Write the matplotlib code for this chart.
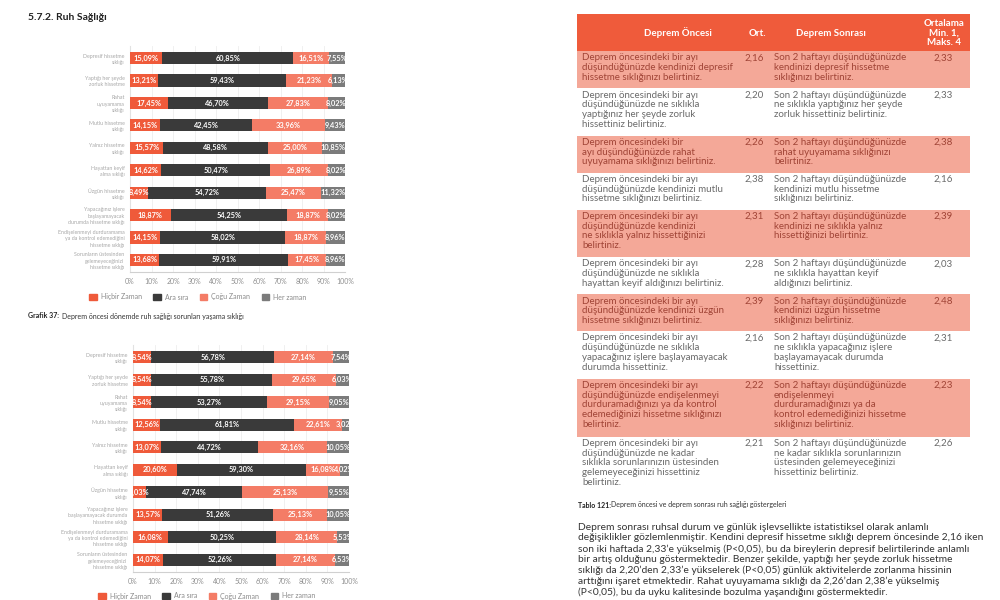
import matplotlib
matplotlib.use('Agg')
import matplotlib.pyplot as plt
from matplotlib.patches import Rectangle, Patch

plt.rcParams['font.family'] = ['Lato', 'DejaVu Sans']

# ---- data ----
seriler = ['Hiçbir Zaman', 'Ara sıra', 'Çoğu Zaman', 'Her zaman']
renkler = ['#EF5A3A', '#3A3A3A', '#F47C66', '#7B7B7B']

kategori_once = ['Depresif hissetme\nsıklığı', 'Yaptığı her şeyde\nzorluk hissetme',
                 'Rahat\nuyuyamama\nsıklığı', 'Mutlu hissetme\nsıklığı',
                 'Yalnız hissetme\nsıklığı', 'Hayattan keyif\nalma sıklığı',
                 'Üzgün hissetme\nsıklığı',
                 'Yapacağınız işlere\nbaşlayamayacak\ndurumda hissetme sıklığı',
                 'Endişelenmeyi durduramama\nya da kontrol edemediğini\nhissetme sıklığı',
                 'Sorunların üstesinden\ngelemeyeceğinizi\nhissetme sıklığı']
kategori_sonra = ['Depresif hissetme\nsıklığı', 'Yaptığı her şeyde\nzorluk hissetme',
                  'Rahat\nuyuyamama\nsıklığı', 'Mutlu hissetme\nsıklığı',
                  'Yalnız hissetme\nsıklığı', 'Hayattan keyif\nalma sıklığı',
                  'Üzgün hissetme\nsıklığı',
                  'Yapacağınız işlere\nbaşlayamayacak durumda\nhissetme sıklığı',
                  'Endişelenmeyi durduramama\nya da kontrol edemediğini\nhissetme sıklığı',
                  'Sorunların üstesinden\ngelemeyeceğinizi\nhissetme sıklığı']

once_hicbir = [15.09, 13.21, 17.45, 14.15, 15.57, 14.62, 8.49, 18.87, 14.15, 13.68]
once_arasira = [60.85, 59.43, 46.70, 42.45, 48.58, 50.47, 54.72, 54.25, 58.02, 59.91]
once_cogu = [16.51, 21.23, 27.83, 33.96, 25.00, 26.89, 25.47, 18.87, 18.87, 17.45]
once_her = [7.55, 6.13, 8.02, 9.43, 10.85, 8.02, 11.32, 8.02, 8.96, 8.96]

sonra_hicbir = [8.54, 8.54, 8.54, 12.56, 13.07, 20.60, 6.03, 13.57, 16.08, 14.07]
sonra_arasira = [56.78, 55.78, 53.27, 61.81, 44.72, 59.30, 44.30, 51.26, 50.25, 52.26]
sonra_cogu = [27.14, 29.65, 29.15, 22.61, 32.16, 16.08, 40.12, 25.13, 28.14, 27.14]
sonra_her = [7.54, 6.03, 9.05, 3.02, 10.05, 4.02, 9.55, 10.05, 5.53, 6.53]
# the printed labels of row 7 differ from the bar lengths in the source chart
sonra_etiket = {(6, 1): 47.74, (6, 2): 25.13}

tablo_once = [
    'Deprem öncesindeki bir ayı\ndüşündüğünüzde kendinizi depresif\nhissetme sıklığınızı belirtiniz.',
    'Deprem öncesindeki bir ayı\ndüşündüğünüzde ne sıklıkla\nyaptığınız her şeyde zorluk\nhissettiniz belirtiniz.',
    'Deprem öncesindeki bir\nayı düşündüğünüzde rahat\nuyuyamama sıklığınızı belirtiniz.',
    'Deprem öncesindeki bir ayı\ndüşündüğünüzde kendinizi mutlu\nhissetme sıklığınızı belirtiniz.',
    'Deprem öncesindeki bir ayı\ndüşündüğünüzde kendinizi\nne sıklıkla yalnız hissettiğinizi\nbelirtiniz.',
    'Deprem öncesindeki bir ayı\ndüşündüğünüzde ne sıklıkla\nhayattan keyif aldığınızı belirtiniz.',
    'Deprem öncesindeki bir ayı\ndüşündüğünüzde kendinizi üzgün\nhissetme sıklığınızı belirtiniz.',
    'Deprem öncesindeki bir ayı\ndüşündüğünüzde ne sıklıkla\nyapacağınız işlere başlayamayacak\ndurumda hissettiniz.',
    'Deprem öncesindeki bir ayı\ndüşündüğünüzde endişelenmeyi\ndurduramadığınızı ya da kontrol\nedemediğinizi hissetme sıklığınızı\nbelirtiniz.',
    'Deprem öncesindeki bir ayı\ndüşündüğünüzde ne kadar\nsıklıkla sorunlarınızın üstesinden\ngelemeyeceğinizi hissettiniz\nbelirtiniz.']
tablo_once_ort = ['2,16', '2,20', '2,26', '2,38', '2,31', '2,28', '2,39', '2,16', '2,22', '2,21']
tablo_sonra = [
    'Son 2 haftayı düşündüğünüzde\nkendinizi depresif hissetme\nsıklığınızı belirtiniz.',
    'Son 2 haftayı düşündüğünüzde\nne sıklıkla yaptığınız her şeyde\nzorluk hissettiniz belirtiniz.',
    'Son 2 haftayı düşündüğünüzde\nrahat uyuyamama sıklığınızı\nbelirtiniz.',
    'Son 2 haftayı düşündüğünüzde\nkendinizi mutlu hissetme\nsıklığınızı belirtiniz.',
    'Son 2 haftayı düşündüğünüzde\nkendinizi ne sıklıkla yalnız\nhissettiğinizi belirtiniz.',
    'Son 2 haftayı düşündüğünüzde\nne sıklıkla hayattan keyif\naldığınızı belirtiniz.',
    'Son 2 haftayı düşündüğünüzde\nkendinizi üzgün hissetme\nsıklığınızı belirtiniz.',
    'Son 2 haftayı düşündüğünüzde\nne sıklıkla yapacağınız işlere\nbaşlayamayacak durumda\nhissettiniz.',
    'Son 2 haftayı düşündüğünüzde\nendişelenmeyi\ndurduramadığınızı ya da\nkontrol edemediğinizi hissetme\nsıklığınızı belirtiniz.',
    'Son 2 haftayı düşündüğünüzde\nne kadar sıklıkla sorunlarınızın\nüstesinden gelemeyeceğinizi\nhissettiniz belirtiniz.']
tablo_sonra_ort = ['2,33', '2,33', '2,38', '2,16', '2,39', '2,03', '2,48', '2,31', '2,23', '2,26']

paragraf = ("Deprem sonrası ruhsal durum ve günlük işlevsellikte istatistiksel olarak anlamlı\n"
            "değişiklikler gözlemlenmiştir. Kendini depresif hissetme sıklığı deprem öncesinde 2,16 iken\n"
            "son iki haftada 2,33’e yükselmiş (P<0,05), bu da bireylerin depresif belirtilerinde anlamlı\n"
            "bir artış olduğunu göstermektedir. Benzer şekilde, yaptığı her şeyde zorluk hissetme\n"
            "sıklığı da 2,20’den 2,33’e yükselerek (P<0,05) günlük aktivitelerde zorlanma hissinin\n"
            "arttığını işaret etmektedir. Rahat uyuyamama sıklığı da 2,26’dan 2,38’e yükselmiş\n"
            "(P<0,05), bu da uyku kalitesinde bozulma yaşandığını göstermektedir.")


def yuzde(v):
    return ('%.2f' % v).replace('.', ',') + '%'


fig = plt.figure(figsize=(10, 6), dpi=100)

# page layer in pixel coordinates
page = fig.add_axes([0, 0, 1, 1])
page.set_xlim(0, 1000)
page.set_ylim(600, 0)
page.axis('off')


def stacked(rect, kategoriler, degerler, etiket_fix, legend_xy):
    ax = fig.add_axes(rect)
    n = len(kategoriler)
    sol = [0] * n
    for s, (vals, renk) in enumerate(zip(degerler, renkler)):
        ax.barh(range(n), vals, left=sol, height=0.54, color=renk, label=seriler[s], zorder=3)
        for i, v in enumerate(vals):
            txt = yuzde(etiket_fix.get((i, s), v))
            ax.text(sol[i] + v / 2, i, txt, ha='center', va='center', color='white',
                    fontsize=5.3, fontweight='bold', zorder=4)
        sol = [a + b for a, b in zip(sol, vals)]
    ax.set_xlim(0, 100)
    ax.set_ylim(n - 0.46, -0.54)
    ax.set_yticks(range(n))
    ax.set_yticklabels(kategoriler, fontsize=3.8, color='#a8a8a8', linespacing=1.35)
    ax.set_xticks(range(0, 101, 10))
    ax.set_xticklabels(['%d%%' % t for t in range(0, 101, 10)], fontsize=5, color='#909090')
    ax.tick_params(length=0, pad=4)
    ax.grid(axis='x', color='#eeeeee', linewidth=0.6, zorder=0)
    for sp in ['top', 'right']:
        ax.spines[sp].set_visible(False)
    ax.spines['left'].set_color('#e2e2e2')
    ax.spines['bottom'].set_color('#d0d0d0')
    handles = [Patch(color=c, label=l) for c, l in zip(renkler, seriler)]
    fig.legend(handles=handles, loc='center', bbox_to_anchor=legend_xy, ncol=4, frameon=False,
               fontsize=5, labelcolor='#8a8a8a', handlelength=1.1, handleheight=1.1,
               columnspacing=1.6, handletextpad=0.6)
    return ax


stacked([0.130, 1 - 272 / 600, 0.215, 226 / 600], kategori_once,
        [once_hicbir, once_arasira, once_cogu, once_her], {}, (0.198, 1 - 297 / 600))
stacked([0.133, 1 - 572 / 600, 0.216, 227 / 600], kategori_sonra,
        [sonra_hicbir, sonra_arasira, sonra_cogu, sonra_her], sonra_etiket, (0.207, 1 - 596 / 600))

# titles and captions
page.text(28, 18, '5.7.2. Ruh Sağlığı', fontsize=7.5, fontweight='bold', color='#222222', va='center')
page.text(28, 316, 'Grafik 37:', fontsize=5, fontweight='bold', color='#222222', va='center')
page.text(62, 316, 'Deprem öncesi dönemde ruh sağlığı sorunları yaşama sıklığı', fontsize=5,
          color='#333333', va='center')

# table
x0, x1 = 577, 970
basl_renk = '#EF5B3B'
golge = '#F4A898'
page.add_patch(Rectangle((x0, 14), x1 - x0, 37, color=basl_renk, lw=0))
page.text(678, 33, 'Deprem Öncesi', color='white', fontsize=7, fontweight='bold', ha='center', va='center')
page.text(757, 33, 'Ort.', color='white', fontsize=7, fontweight='bold', ha='center', va='center')
page.text(831, 33, 'Deprem Sonrası', color='white', fontsize=7, fontweight='bold', ha='center', va='center')
page.text(944, 33, 'Ortalama\nMin. 1,\nMaks. 4', color='white', fontsize=7, fontweight='bold',
          ha='center', va='center', linespacing=1.05)

y = 51
for i in range(len(tablo_once)):
    satir = max(tablo_once[i].count('\n'), tablo_sonra[i].count('\n')) + 1
    h = 10.5 * satir + 5.5
    if i % 2 == 0:
        page.add_patch(Rectangle((x0, y), x1 - x0, h, color=golge, lw=0))
        tc = '#A04436'
    else:
        tc = '#6a6a6a'
    kw = dict(fontsize=7.0, color=tc, va='top', linespacing=1.1)
    page.text(582, y + 2.5, tablo_once[i], ha='left', **kw)
    page.text(764, y + 2.5, tablo_once_ort[i], ha='right', **kw)
    page.text(774, y + 2.5, tablo_sonra[i], ha='left', **kw)
    page.text(943, y + 2.5, tablo_sonra_ort[i], ha='center', **kw)
    y += h

page.text(578, 505, 'Tablo 121:', fontsize=5, fontweight='bold', color='#222222', va='center')
page.text(611, 505, 'Deprem öncesi ve deprem sonrası ruh sağlığı göstergeleri', fontsize=5,
          color='#333333', va='center')

page.text(578, 523, paragraf, fontsize=7.4, color='#333333', va='top', ha='left', linespacing=1.21)

fig.savefig('out.png', dpi=100)
